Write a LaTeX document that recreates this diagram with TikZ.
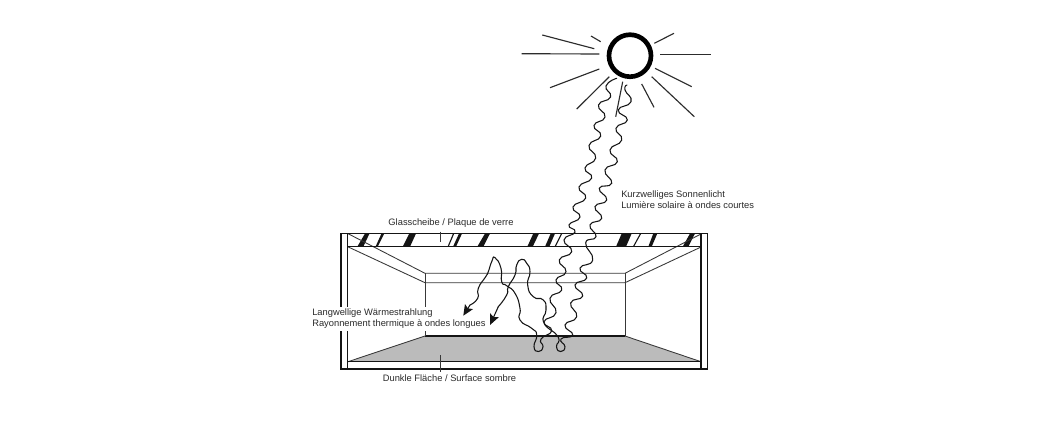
\documentclass[tikz,border=0pt]{standalone}
\usepackage{fontspec}
\setmainfont{Liberation Sans}
\usetikzlibrary{arrows.meta}
\definecolor{floorgray}{HTML}{BBBBBB}
\definecolor{inkblack}{HTML}{151515}
\definecolor{textgray}{HTML}{2A2A2A}
\tikzset{
  px/.style={x=0.75pt,y=-0.75pt},
  frameline/.style={draw=inkblack,line width=0.8pt,line join=miter},
  thinline/.style={draw=inkblack!85,line width=0.65pt},
  ray/.style={draw=inkblack!90,line width=0.85pt},
  wave/.style={draw=inkblack,line width=0.8pt,smooth,tension=1,line cap=round},
  heat/.style={draw=inkblack,line width=0.8pt,-{Stealth[length=8pt,width=7pt,inset=1.5pt]}},
  stripe/.style={fill=inkblack,draw=none},
  lab/.style={font=\fontsize{7pt}{8.2pt}\selectfont,text=textgray,inner sep=0pt,align=left},
}
\begin{document}
\begin{tikzpicture}[px]
\useasboundingbox[fill=white] (0,0) rectangle (1050,437);
% floor
\fill[floorgray] (348,361.7) -- (425,336) -- (625,336) -- (701,361.7) -- cycle;
\draw[thinline] (348,361.7) -- (425,336);
\draw[thinline] (625,336) -- (701,361.7);
\draw[frameline] (425,336) -- (625,336);
% glass stripes
\foreach \a/\b/\c/\d in {365/369.5/363.3/357.3, 381.5/384.3/377.7/375.5, 409.3/416/410/402.7,
  453/454.3/448.7/447.5, 459/462/456/453, 485/490/483.3/477.3, 533.3/539/532.7/527.3,
  550.7/555/549.3/545, 561/562.3/555.7/554.5, 621.7/631.7/626/616, 640/641.3/634/632.8,
  653.3/657.3/651.7/648.3, 690/695/688.3/682.7}
  \fill[stripe] (\a,233.5) -- (\b,233.5) -- (\c,246.7) -- (\d,246.7) -- cycle;
% room
\draw[thinline] (347.7,233.5) -- (425,273.3) -- (625,273.3) -- (700,234.5);
\draw[thinline] (347.7,246.7) -- (425,282.7) -- (625,282.7) -- (701,247);
\draw[thinline] (425,273.3) -- (425,336);
\draw[thinline] (625,273.3) -- (625,336);
% frame
\draw[frameline] (341,233.5) rectangle (707.7,369);
\draw[frameline] (347.7,233.5) -- (347.7,369);
\draw[frameline] (701,233.5) -- (701,369);
\draw[frameline] (347.7,246.7) -- (701,246.7);
\draw[frameline] (347.7,361.7) -- (701,361.7);
% sun
\node[draw=black,line width=3.5pt,circle,minimum size=31.5pt,inner sep=0pt] (sun) at (630,55.7) {};
\foreach \a/\b/\c/\d in {542.3/35/594.3/48.7, 591/36/600.7/41.7, 521.7/53.7/599.3/54, 550/87.7/599.3/69,
  576.7/109/609.3/76.7, 622.7/81.7/615.7/116.7, 641.7/84/654/107.3, 651.7/76.7/694.3/116.7,
  655/68.3/691.7/86.7, 660/54.7/710.7/54.7, 654.3/43.3/674/33.3}
  \draw[ray] (\a,\b) -- (\c,\d);
% labels
\node[lab,anchor=west,fill=white,minimum height=18pt,minimum width=132pt] (warm) at (310,319)
  {\hspace{1pt}Langwellige Wärmestrahlung\\\hspace{1pt}Rayonnement thermique à ondes longues};
\node[lab,anchor=center] (glas) at (451,223) {Glasscheibe / Plaque de verre};
\node[lab,anchor=center] (dunkel) at (449.5,378) {Dunkle Fläche / Surface sombre};
\node[lab,anchor=west] (kurz) at (621,199.5) {Kurzwelliges Sonnenlicht\\Lumière solaire à ondes courtes};
% leader ticks
\coordinate (t1a) at (440,231.5); \coordinate (t1b) at (440,241.7);
\coordinate (t2a) at (440,355); \coordinate (t2b) at (440,371.5);
\draw[thinline] (t1a) -- (t1b);
\draw[thinline] (t2a) -- (t2b);
% sunlight wave 1 with loop
\draw[wave] plot coordinates {(616.7,78.3) (606,86) (610.5,97) (598.5,105) (605,117) (594,125.5) (600.7,136) (589,145.5)
 (595.7,158) (585,168) (591.7,178) (579,187) (585.7,198) (573,207) (580,217) (569,225) (575,232) (564,240) (571.7,251.7)
 (559.3,260) (566,271.7) (556,280) (561.7,290) (550,298.3) (556,312.7) (544,321.7) (551.7,330.7) (541,339) (543,346.7)
 (538.5,351.5) (534,346.7) (536.7,335) (531.7,328.3) (520,320) (520,308.3) (515,293.3) (506.7,285.7) (501.7,281.7) (501,268.3)
 (495,257.7) (491.7,261.7) (488.3,271.7) (485.7,276.7) (478.3,288.3) (477.7,298.3) (470,305)};
\coordinate (h1a) at (470,305); \coordinate (h1b) at (463.3,315.7);
\draw[heat] (h1a) -- (h1b);
% sunlight wave 2 with loop
\draw[wave] plot coordinates {(627,85) (625,90) (631,101.7) (618.3,110) (627.3,120) (616,128.3) (621.7,140) (610,150)
 (617.3,161.7) (605,170) (611.7,183.3) (599.3,188.3) (606.7,200) (595,206.7) (601.7,218.3) (590,225) (596,236.7) (585.7,243)
 (592.7,260) (580,268) (586.7,278) (575,285) (582.7,296) (570.7,303) (576.7,316.7) (565,325) (572.7,335) (561,339) (565,346.7)
 (560.7,351.5) (556.5,346.7) (558,336.7) (544,323) (546,310) (543.3,300) (533.3,296.7) (527.7,285) (530,271.7) (526.7,263.3)
 (521.7,259.3) (516.7,265) (515,275) (508.3,286.7) (506.7,295) (498.3,306.7)};
\coordinate (h2a) at (498.3,306.7); \coordinate (h2b) at (490,325);
\draw[heat] (h2a) -- (h2b);
\end{tikzpicture}
\end{document}
